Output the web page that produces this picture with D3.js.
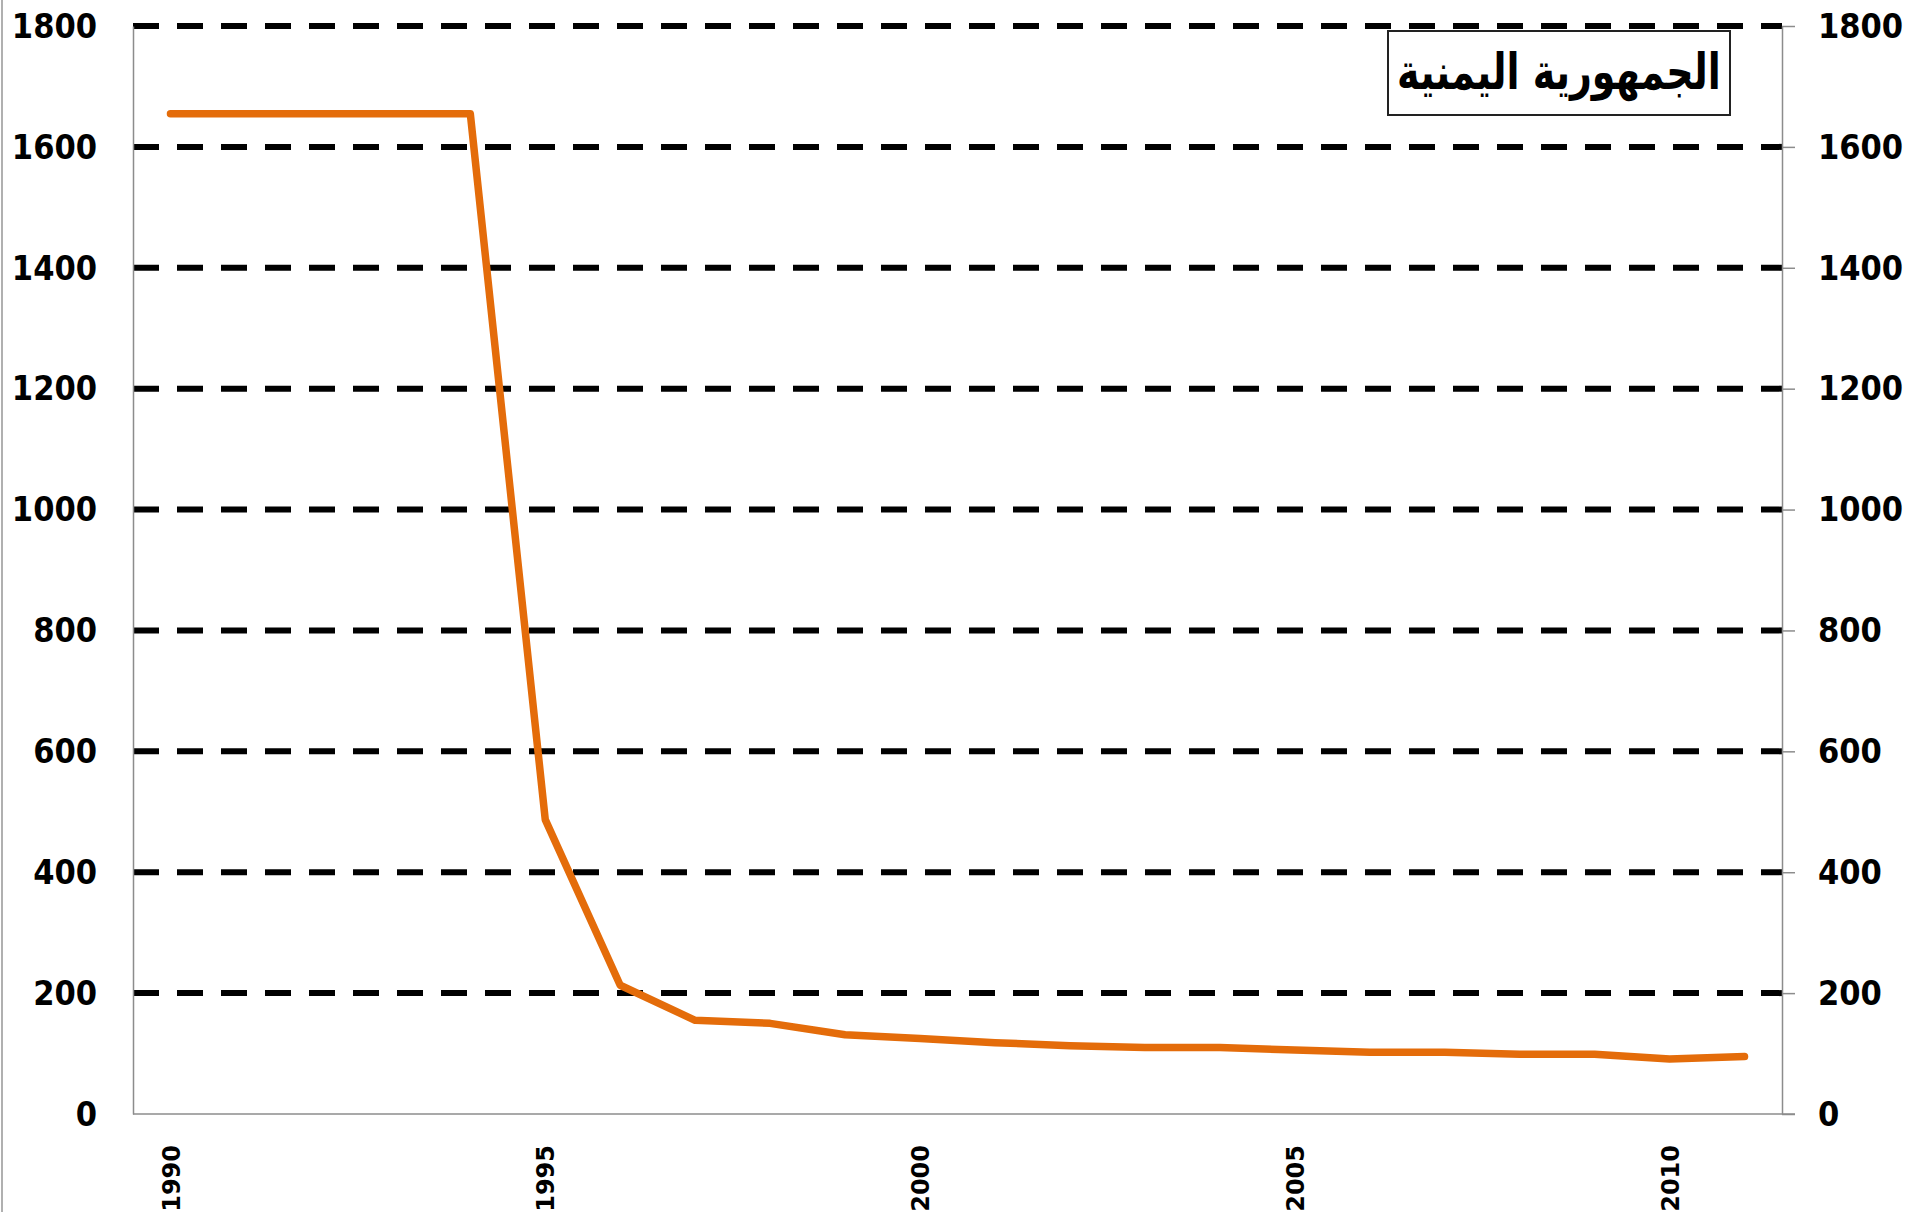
<!DOCTYPE html>
<html>
<head>
<meta charset="utf-8">
<script src="https://cdn.jsdelivr.net/npm/d3@7"></script>
<style>
  html, body { margin: 0; padding: 0; background: #fff; }
  svg { display: block; }
  .ylab { font-family: "DejaVu Sans Condensed", "DejaVu Sans", sans-serif; font-stretch: condensed; font-weight: bold; font-size: 34px; fill: #000; }
  .xlab { font-family: "DejaVu Sans", sans-serif; font-weight: bold; font-size: 24px; fill: #000; }
  .title { font-family: "DejaVu Sans", sans-serif; font-weight: bold; font-size: 38px; fill: #000; }
</style>
</head>
<body>
<svg id="chart"></svg>
<script>
const WIDTH = 1909;
const HEIGHT = 1212;

const years = d3.range(1990, 2012);
const values = [1655, 1655, 1655, 1655, 1655, 487, 213, 155, 150, 131, 125,
  118, 113, 110, 110, 106, 102, 102, 99, 99, 91, 95];
const yTicks = [0, 200, 400, 600, 800, 1000, 1200, 1400, 1600, 1800];
const xTickYears = [1990, 1995, 2000, 2005, 2010];
const title = 'الجمهورية اليمنية';

const plot = { left: 133, right: 1782, top: 26, bottom: 1114 };

const svg = d3.select('#chart').attr('width', WIDTH).attr('height', HEIGHT);
svg.append('rect').attr('width', WIDTH).attr('height', HEIGHT).attr('fill', '#fff');

// frame line at far left edge
svg.append('line')
  .attr('x1', 2).attr('x2', 2).attr('y1', 0).attr('y2', HEIGHT)
  .attr('stroke', '#b0b0b0').attr('stroke-width', 2);

const x = d3.scalePoint().domain(years).range([plot.left, plot.right]).padding(0.5);
const y = d3.scaleLinear().domain([0, 1800]).range([plot.bottom, plot.top]);

// dashed gridlines
svg.append('g')
  .selectAll('line')
  .data(yTicks.filter((d) => d > 0))
  .join('line')
  .attr('x1', plot.left).attr('x2', plot.right)
  .attr('y1', (d) => y(d)).attr('y2', (d) => y(d))
  .attr('stroke', '#000').attr('stroke-width', 6)
  .attr('stroke-dasharray', '26,18');

// left axis (labels only)
const leftAxis = svg.append('g')
  .attr('transform', `translate(${plot.left},0)`)
  .call(d3.axisLeft(y).tickValues(yTicks).tickSize(0).tickPadding(36).tickFormat(d3.format('d')));
leftAxis.select('.domain').attr('stroke', '#8c8c8c').attr('stroke-width', 1.5);
leftAxis.selectAll('text').attr('class', 'ylab').attr('dy', '0.33em');

// right axis
const rightAxis = svg.append('g')
  .attr('transform', `translate(${plot.right},0)`)
  .call(d3.axisRight(y).tickValues(yTicks).tickSizeInner(13).tickSizeOuter(0).tickPadding(23).tickFormat(d3.format('d')));
rightAxis.select('.domain').attr('stroke', '#8c8c8c').attr('stroke-width', 1.5);
rightAxis.selectAll('line').attr('stroke', '#8c8c8c').attr('stroke-width', 1.5);
rightAxis.selectAll('text').attr('class', 'ylab').attr('dy', '0.33em');

// bottom axis
const bottomAxis = svg.append('g')
  .attr('transform', `translate(0,${plot.bottom})`)
  .call(d3.axisBottom(x).tickValues(xTickYears).tickSize(0).tickFormat(d3.format('d')));
bottomAxis.select('.domain')
  .attr('d', `M${plot.left},0H${plot.right + 13}`)
  .attr('stroke', '#8c8c8c').attr('stroke-width', 1.5);
bottomAxis.selectAll('text')
  .attr('class', 'xlab')
  .attr('text-anchor', 'end')
  .attr('transform', 'translate(0,31) rotate(-90)')
  .attr('x', 0).attr('y', 0).attr('dy', '0.36em');

// series line
const line = d3.line()
  .x((d, i) => x(years[i]))
  .y((d) => y(d));

svg.append('path')
  .datum(values)
  .attr('d', line)
  .attr('fill', 'none')
  .attr('stroke', '#E46C0A')
  .attr('stroke-width', 7.5)
  .attr('stroke-linejoin', 'round')
  .attr('stroke-linecap', 'round');

// title box
const box = { x: 1388, y: 31, w: 342, h: 84 };
svg.append('rect')
  .attr('x', box.x).attr('y', box.y).attr('width', box.w).attr('height', box.h)
  .attr('fill', '#fff').attr('stroke', '#222').attr('stroke-width', 2);
svg.append('text')
  .attr('class', 'title')
  .attr('transform', `translate(${box.x + box.w / 2},${box.y + 58}) scale(1,1.3)`)
  .attr('text-anchor', 'middle')
  .attr('direction', 'rtl')
  .text(title);
</script>
</body>
</html>
